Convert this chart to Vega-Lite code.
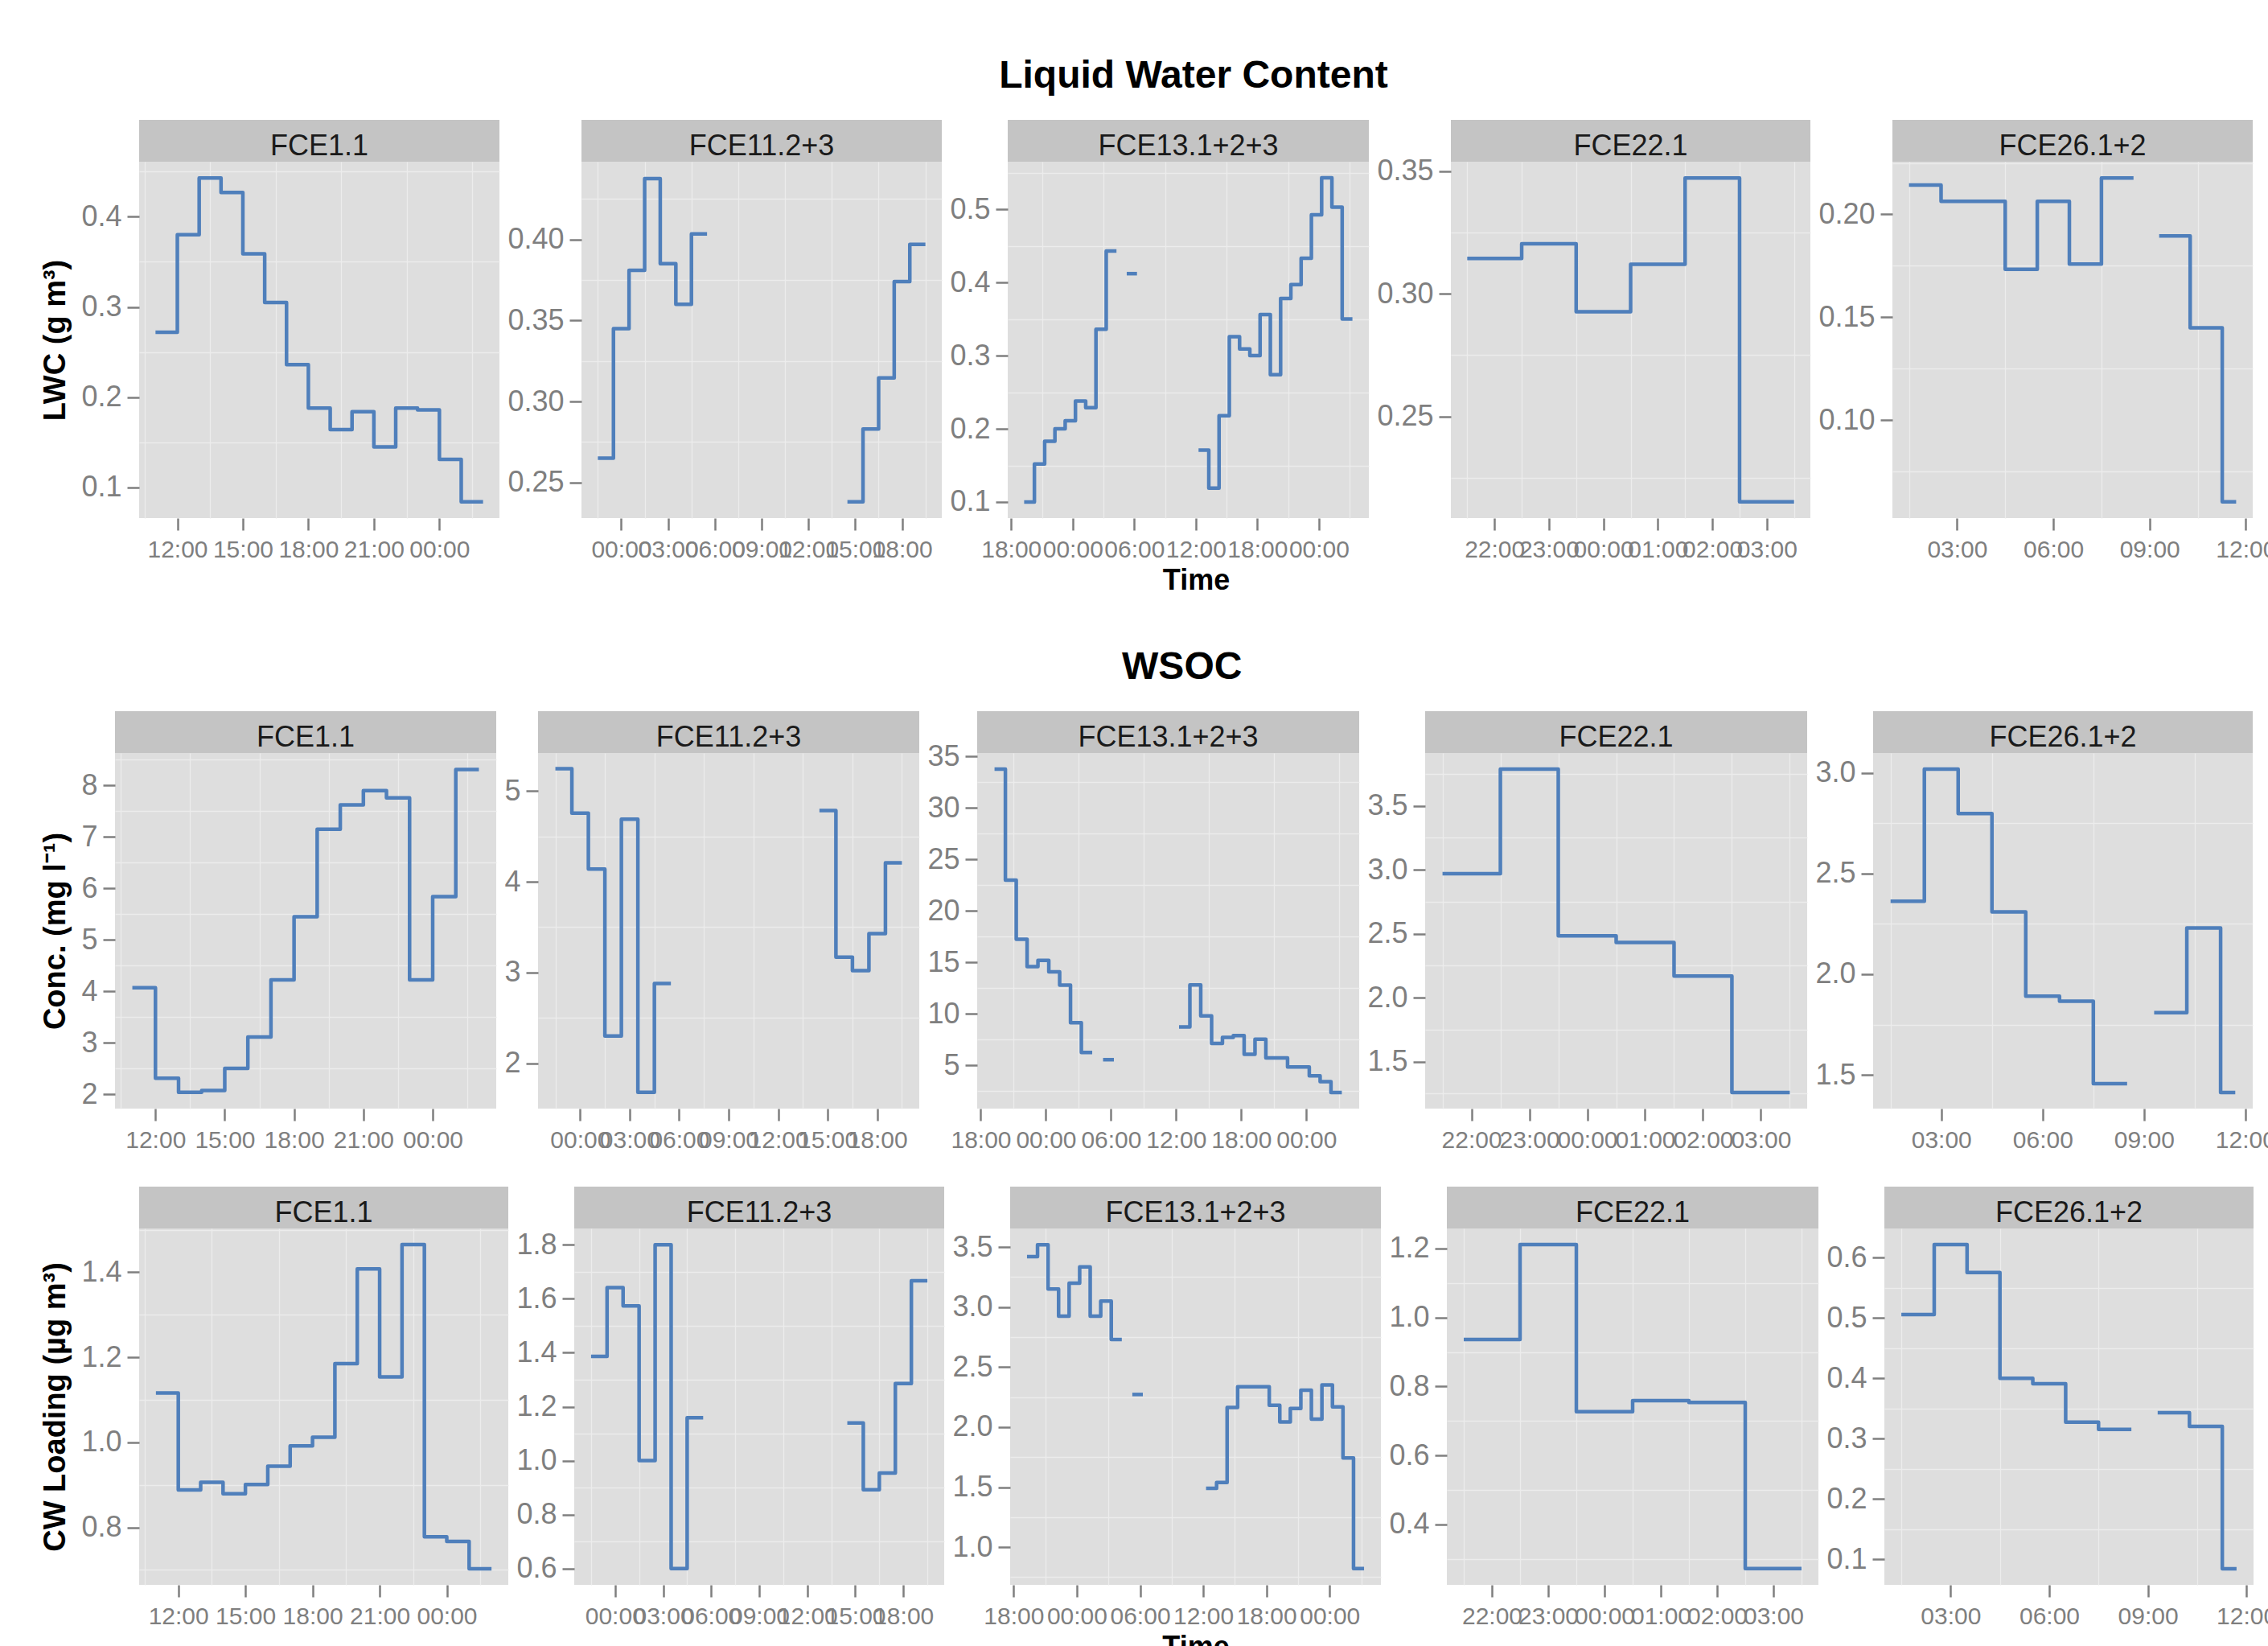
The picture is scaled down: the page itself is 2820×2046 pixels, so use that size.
{
  "$schema": "https://vega.github.io/schema/vega-lite/v6.json",
  "background": "#ffffff",
  "padding": {"left": 40, "top": 71, "right": 0, "bottom": 0},
  "data": {
    "format": {"parse": {"time": "date:'%Y-%m-%d %H:%M'"}},
    "values": [
      {"var": "LWC", "event": "FCE1.1", "seg": 1, "time": "2010-09-14 11:00", "value": 0.272},
      {"var": "LWC", "event": "FCE1.1", "seg": 1, "time": "2010-09-14 12:00", "value": 0.380},
      {"var": "LWC", "event": "FCE1.1", "seg": 1, "time": "2010-09-14 13:00", "value": 0.443},
      {"var": "LWC", "event": "FCE1.1", "seg": 1, "time": "2010-09-14 14:00", "value": 0.427},
      {"var": "LWC", "event": "FCE1.1", "seg": 1, "time": "2010-09-14 15:00", "value": 0.359},
      {"var": "LWC", "event": "FCE1.1", "seg": 1, "time": "2010-09-14 16:00", "value": 0.305},
      {"var": "LWC", "event": "FCE1.1", "seg": 1, "time": "2010-09-14 17:00", "value": 0.236},
      {"var": "LWC", "event": "FCE1.1", "seg": 1, "time": "2010-09-14 18:00", "value": 0.188},
      {"var": "LWC", "event": "FCE1.1", "seg": 1, "time": "2010-09-14 19:00", "value": 0.164},
      {"var": "LWC", "event": "FCE1.1", "seg": 1, "time": "2010-09-14 20:00", "value": 0.184},
      {"var": "LWC", "event": "FCE1.1", "seg": 1, "time": "2010-09-14 21:00", "value": 0.145},
      {"var": "LWC", "event": "FCE1.1", "seg": 1, "time": "2010-09-14 22:00", "value": 0.188},
      {"var": "LWC", "event": "FCE1.1", "seg": 1, "time": "2010-09-14 23:00", "value": 0.186},
      {"var": "LWC", "event": "FCE1.1", "seg": 1, "time": "2010-09-15 00:00", "value": 0.131},
      {"var": "LWC", "event": "FCE1.1", "seg": 1, "time": "2010-09-15 01:00", "value": 0.084},
      {"var": "LWC", "event": "FCE1.1", "seg": 1, "time": "2010-09-15 02:00", "value": 0.084},

      {"var": "LWC", "event": "FCE11.2+3", "seg": 1, "time": "2010-10-01 22:30", "value": 0.265},
      {"var": "LWC", "event": "FCE11.2+3", "seg": 1, "time": "2010-10-01 23:30", "value": 0.345},
      {"var": "LWC", "event": "FCE11.2+3", "seg": 1, "time": "2010-10-02 00:30", "value": 0.381},
      {"var": "LWC", "event": "FCE11.2+3", "seg": 1, "time": "2010-10-02 01:30", "value": 0.4376},
      {"var": "LWC", "event": "FCE11.2+3", "seg": 1, "time": "2010-10-02 02:30", "value": 0.385},
      {"var": "LWC", "event": "FCE11.2+3", "seg": 1, "time": "2010-10-02 03:30", "value": 0.360},
      {"var": "LWC", "event": "FCE11.2+3", "seg": 1, "time": "2010-10-02 04:30", "value": 0.4034},
      {"var": "LWC", "event": "FCE11.2+3", "seg": 1, "time": "2010-10-02 05:30", "value": 0.4034},
      {"var": "LWC", "event": "FCE11.2+3", "seg": 2, "time": "2010-10-02 14:30", "value": 0.238},
      {"var": "LWC", "event": "FCE11.2+3", "seg": 2, "time": "2010-10-02 15:30", "value": 0.283},
      {"var": "LWC", "event": "FCE11.2+3", "seg": 2, "time": "2010-10-02 16:30", "value": 0.3145},
      {"var": "LWC", "event": "FCE11.2+3", "seg": 2, "time": "2010-10-02 17:30", "value": 0.374},
      {"var": "LWC", "event": "FCE11.2+3", "seg": 2, "time": "2010-10-02 18:30", "value": 0.397},
      {"var": "LWC", "event": "FCE11.2+3", "seg": 2, "time": "2010-10-02 19:30", "value": 0.397},

      {"var": "LWC", "event": "FCE13.1+2+3", "seg": 1, "time": "2010-10-06 19:16", "value": 0.100},
      {"var": "LWC", "event": "FCE13.1+2+3", "seg": 1, "time": "2010-10-06 20:16", "value": 0.152},
      {"var": "LWC", "event": "FCE13.1+2+3", "seg": 1, "time": "2010-10-06 21:16", "value": 0.183},
      {"var": "LWC", "event": "FCE13.1+2+3", "seg": 1, "time": "2010-10-06 22:16", "value": 0.200},
      {"var": "LWC", "event": "FCE13.1+2+3", "seg": 1, "time": "2010-10-06 23:16", "value": 0.211},
      {"var": "LWC", "event": "FCE13.1+2+3", "seg": 1, "time": "2010-10-07 00:16", "value": 0.238},
      {"var": "LWC", "event": "FCE13.1+2+3", "seg": 1, "time": "2010-10-07 01:16", "value": 0.229},
      {"var": "LWC", "event": "FCE13.1+2+3", "seg": 1, "time": "2010-10-07 02:16", "value": 0.336},
      {"var": "LWC", "event": "FCE13.1+2+3", "seg": 1, "time": "2010-10-07 03:16", "value": 0.443},
      {"var": "LWC", "event": "FCE13.1+2+3", "seg": 1, "time": "2010-10-07 04:16", "value": 0.443},
      {"var": "LWC", "event": "FCE13.1+2+3", "seg": 2, "time": "2010-10-07 05:16", "value": 0.412},
      {"var": "LWC", "event": "FCE13.1+2+3", "seg": 2, "time": "2010-10-07 06:16", "value": 0.412},
      {"var": "LWC", "event": "FCE13.1+2+3", "seg": 3, "time": "2010-10-07 12:16", "value": 0.171},
      {"var": "LWC", "event": "FCE13.1+2+3", "seg": 3, "time": "2010-10-07 13:16", "value": 0.119},
      {"var": "LWC", "event": "FCE13.1+2+3", "seg": 3, "time": "2010-10-07 14:16", "value": 0.218},
      {"var": "LWC", "event": "FCE13.1+2+3", "seg": 3, "time": "2010-10-07 15:16", "value": 0.326},
      {"var": "LWC", "event": "FCE13.1+2+3", "seg": 3, "time": "2010-10-07 16:16", "value": 0.309},
      {"var": "LWC", "event": "FCE13.1+2+3", "seg": 3, "time": "2010-10-07 17:16", "value": 0.300},
      {"var": "LWC", "event": "FCE13.1+2+3", "seg": 3, "time": "2010-10-07 18:16", "value": 0.356},
      {"var": "LWC", "event": "FCE13.1+2+3", "seg": 3, "time": "2010-10-07 19:16", "value": 0.274},
      {"var": "LWC", "event": "FCE13.1+2+3", "seg": 3, "time": "2010-10-07 20:16", "value": 0.378},
      {"var": "LWC", "event": "FCE13.1+2+3", "seg": 3, "time": "2010-10-07 21:16", "value": 0.397},
      {"var": "LWC", "event": "FCE13.1+2+3", "seg": 3, "time": "2010-10-07 22:16", "value": 0.433},
      {"var": "LWC", "event": "FCE13.1+2+3", "seg": 3, "time": "2010-10-07 23:16", "value": 0.4925},
      {"var": "LWC", "event": "FCE13.1+2+3", "seg": 3, "time": "2010-10-08 00:16", "value": 0.543},
      {"var": "LWC", "event": "FCE13.1+2+3", "seg": 3, "time": "2010-10-08 01:16", "value": 0.503},
      {"var": "LWC", "event": "FCE13.1+2+3", "seg": 3, "time": "2010-10-08 02:16", "value": 0.350},
      {"var": "LWC", "event": "FCE13.1+2+3", "seg": 3, "time": "2010-10-08 03:16", "value": 0.350},

      {"var": "LWC", "event": "FCE22.1", "seg": 1, "time": "2010-10-22 21:30", "value": 0.3144},
      {"var": "LWC", "event": "FCE22.1", "seg": 1, "time": "2010-10-22 22:30", "value": 0.3204},
      {"var": "LWC", "event": "FCE22.1", "seg": 1, "time": "2010-10-22 23:30", "value": 0.2927},
      {"var": "LWC", "event": "FCE22.1", "seg": 1, "time": "2010-10-23 00:30", "value": 0.3120},
      {"var": "LWC", "event": "FCE22.1", "seg": 1, "time": "2010-10-23 01:30", "value": 0.3472},
      {"var": "LWC", "event": "FCE22.1", "seg": 1, "time": "2010-10-23 02:30", "value": 0.2152},
      {"var": "LWC", "event": "FCE22.1", "seg": 1, "time": "2010-10-23 03:30", "value": 0.2152},

      {"var": "LWC", "event": "FCE26.1+2", "seg": 1, "time": "2010-10-24 01:30", "value": 0.2143},
      {"var": "LWC", "event": "FCE26.1+2", "seg": 1, "time": "2010-10-24 02:30", "value": 0.2063},
      {"var": "LWC", "event": "FCE26.1+2", "seg": 1, "time": "2010-10-24 03:30", "value": 0.2063},
      {"var": "LWC", "event": "FCE26.1+2", "seg": 1, "time": "2010-10-24 04:30", "value": 0.1733},
      {"var": "LWC", "event": "FCE26.1+2", "seg": 1, "time": "2010-10-24 05:30", "value": 0.2063},
      {"var": "LWC", "event": "FCE26.1+2", "seg": 1, "time": "2010-10-24 06:30", "value": 0.1758},
      {"var": "LWC", "event": "FCE26.1+2", "seg": 1, "time": "2010-10-24 07:30", "value": 0.2177},
      {"var": "LWC", "event": "FCE26.1+2", "seg": 1, "time": "2010-10-24 08:30", "value": 0.2177},
      {"var": "LWC", "event": "FCE26.1+2", "seg": 2, "time": "2010-10-24 09:18", "value": 0.1895},
      {"var": "LWC", "event": "FCE26.1+2", "seg": 2, "time": "2010-10-24 10:16", "value": 0.1448},
      {"var": "LWC", "event": "FCE26.1+2", "seg": 2, "time": "2010-10-24 11:16", "value": 0.0602},
      {"var": "LWC", "event": "FCE26.1+2", "seg": 2, "time": "2010-10-24 11:42", "value": 0.0602},

      {"var": "WSOC", "event": "FCE1.1", "seg": 1, "time": "2010-09-14 11:00", "value": 4.07},
      {"var": "WSOC", "event": "FCE1.1", "seg": 1, "time": "2010-09-14 12:00", "value": 2.31},
      {"var": "WSOC", "event": "FCE1.1", "seg": 1, "time": "2010-09-14 13:00", "value": 2.035},
      {"var": "WSOC", "event": "FCE1.1", "seg": 1, "time": "2010-09-14 14:00", "value": 2.07},
      {"var": "WSOC", "event": "FCE1.1", "seg": 1, "time": "2010-09-14 15:00", "value": 2.50},
      {"var": "WSOC", "event": "FCE1.1", "seg": 1, "time": "2010-09-14 16:00", "value": 3.11},
      {"var": "WSOC", "event": "FCE1.1", "seg": 1, "time": "2010-09-14 17:00", "value": 4.22},
      {"var": "WSOC", "event": "FCE1.1", "seg": 1, "time": "2010-09-14 18:00", "value": 5.45},
      {"var": "WSOC", "event": "FCE1.1", "seg": 1, "time": "2010-09-14 19:00", "value": 7.15},
      {"var": "WSOC", "event": "FCE1.1", "seg": 1, "time": "2010-09-14 20:00", "value": 7.62},
      {"var": "WSOC", "event": "FCE1.1", "seg": 1, "time": "2010-09-14 21:00", "value": 7.90},
      {"var": "WSOC", "event": "FCE1.1", "seg": 1, "time": "2010-09-14 22:00", "value": 7.76},
      {"var": "WSOC", "event": "FCE1.1", "seg": 1, "time": "2010-09-14 23:00", "value": 4.22},
      {"var": "WSOC", "event": "FCE1.1", "seg": 1, "time": "2010-09-15 00:00", "value": 5.84},
      {"var": "WSOC", "event": "FCE1.1", "seg": 1, "time": "2010-09-15 01:00", "value": 8.31},
      {"var": "WSOC", "event": "FCE1.1", "seg": 1, "time": "2010-09-15 02:00", "value": 8.31},

      {"var": "WSOC", "event": "FCE11.2+3", "seg": 1, "time": "2010-10-01 22:30", "value": 5.246},
      {"var": "WSOC", "event": "FCE11.2+3", "seg": 1, "time": "2010-10-01 23:30", "value": 4.758},
      {"var": "WSOC", "event": "FCE11.2+3", "seg": 1, "time": "2010-10-02 00:30", "value": 4.14},
      {"var": "WSOC", "event": "FCE11.2+3", "seg": 1, "time": "2010-10-02 01:30", "value": 2.30},
      {"var": "WSOC", "event": "FCE11.2+3", "seg": 1, "time": "2010-10-02 02:30", "value": 4.69},
      {"var": "WSOC", "event": "FCE11.2+3", "seg": 1, "time": "2010-10-02 03:30", "value": 1.68},
      {"var": "WSOC", "event": "FCE11.2+3", "seg": 1, "time": "2010-10-02 04:30", "value": 2.88},
      {"var": "WSOC", "event": "FCE11.2+3", "seg": 1, "time": "2010-10-02 05:30", "value": 2.88},
      {"var": "WSOC", "event": "FCE11.2+3", "seg": 2, "time": "2010-10-02 14:30", "value": 4.786},
      {"var": "WSOC", "event": "FCE11.2+3", "seg": 2, "time": "2010-10-02 15:30", "value": 3.17},
      {"var": "WSOC", "event": "FCE11.2+3", "seg": 2, "time": "2010-10-02 16:30", "value": 3.02},
      {"var": "WSOC", "event": "FCE11.2+3", "seg": 2, "time": "2010-10-02 17:30", "value": 3.43},
      {"var": "WSOC", "event": "FCE11.2+3", "seg": 2, "time": "2010-10-02 18:30", "value": 4.21},
      {"var": "WSOC", "event": "FCE11.2+3", "seg": 2, "time": "2010-10-02 19:30", "value": 4.21},

      {"var": "WSOC", "event": "FCE13.1+2+3", "seg": 1, "time": "2010-10-06 19:16", "value": 33.78},
      {"var": "WSOC", "event": "FCE13.1+2+3", "seg": 1, "time": "2010-10-06 20:16", "value": 23.0},
      {"var": "WSOC", "event": "FCE13.1+2+3", "seg": 1, "time": "2010-10-06 21:16", "value": 17.26},
      {"var": "WSOC", "event": "FCE13.1+2+3", "seg": 1, "time": "2010-10-06 22:16", "value": 14.6},
      {"var": "WSOC", "event": "FCE13.1+2+3", "seg": 1, "time": "2010-10-06 23:16", "value": 15.2},
      {"var": "WSOC", "event": "FCE13.1+2+3", "seg": 1, "time": "2010-10-07 00:16", "value": 14.1},
      {"var": "WSOC", "event": "FCE13.1+2+3", "seg": 1, "time": "2010-10-07 01:16", "value": 12.8},
      {"var": "WSOC", "event": "FCE13.1+2+3", "seg": 1, "time": "2010-10-07 02:16", "value": 9.15},
      {"var": "WSOC", "event": "FCE13.1+2+3", "seg": 1, "time": "2010-10-07 03:16", "value": 6.26},
      {"var": "WSOC", "event": "FCE13.1+2+3", "seg": 1, "time": "2010-10-07 04:16", "value": 6.26},
      {"var": "WSOC", "event": "FCE13.1+2+3", "seg": 2, "time": "2010-10-07 05:16", "value": 5.56},
      {"var": "WSOC", "event": "FCE13.1+2+3", "seg": 2, "time": "2010-10-07 06:16", "value": 5.56},
      {"var": "WSOC", "event": "FCE13.1+2+3", "seg": 3, "time": "2010-10-07 12:16", "value": 8.74},
      {"var": "WSOC", "event": "FCE13.1+2+3", "seg": 3, "time": "2010-10-07 13:16", "value": 12.82},
      {"var": "WSOC", "event": "FCE13.1+2+3", "seg": 3, "time": "2010-10-07 14:16", "value": 9.82},
      {"var": "WSOC", "event": "FCE13.1+2+3", "seg": 3, "time": "2010-10-07 15:16", "value": 7.13},
      {"var": "WSOC", "event": "FCE13.1+2+3", "seg": 3, "time": "2010-10-07 16:16", "value": 7.72},
      {"var": "WSOC", "event": "FCE13.1+2+3", "seg": 3, "time": "2010-10-07 17:16", "value": 7.90},
      {"var": "WSOC", "event": "FCE13.1+2+3", "seg": 3, "time": "2010-10-07 18:16", "value": 6.08},
      {"var": "WSOC", "event": "FCE13.1+2+3", "seg": 3, "time": "2010-10-07 19:16", "value": 7.55},
      {"var": "WSOC", "event": "FCE13.1+2+3", "seg": 3, "time": "2010-10-07 20:16", "value": 5.73},
      {"var": "WSOC", "event": "FCE13.1+2+3", "seg": 3, "time": "2010-10-07 21:16", "value": 5.73},
      {"var": "WSOC", "event": "FCE13.1+2+3", "seg": 3, "time": "2010-10-07 22:16", "value": 4.86},
      {"var": "WSOC", "event": "FCE13.1+2+3", "seg": 3, "time": "2010-10-07 23:16", "value": 4.86},
      {"var": "WSOC", "event": "FCE13.1+2+3", "seg": 3, "time": "2010-10-08 00:16", "value": 3.99},
      {"var": "WSOC", "event": "FCE13.1+2+3", "seg": 3, "time": "2010-10-08 01:16", "value": 3.43},
      {"var": "WSOC", "event": "FCE13.1+2+3", "seg": 3, "time": "2010-10-08 02:16", "value": 2.38},
      {"var": "WSOC", "event": "FCE13.1+2+3", "seg": 3, "time": "2010-10-08 03:16", "value": 2.38},

      {"var": "WSOC", "event": "FCE22.1", "seg": 1, "time": "2010-10-22 21:30", "value": 2.969},
      {"var": "WSOC", "event": "FCE22.1", "seg": 1, "time": "2010-10-22 22:30", "value": 3.787},
      {"var": "WSOC", "event": "FCE22.1", "seg": 1, "time": "2010-10-22 23:30", "value": 2.483},
      {"var": "WSOC", "event": "FCE22.1", "seg": 1, "time": "2010-10-23 00:30", "value": 2.432},
      {"var": "WSOC", "event": "FCE22.1", "seg": 1, "time": "2010-10-23 01:30", "value": 2.169},
      {"var": "WSOC", "event": "FCE22.1", "seg": 1, "time": "2010-10-23 02:30", "value": 1.258},
      {"var": "WSOC", "event": "FCE22.1", "seg": 1, "time": "2010-10-23 03:30", "value": 1.258},

      {"var": "WSOC", "event": "FCE26.1+2", "seg": 1, "time": "2010-10-24 01:30", "value": 2.3625},
      {"var": "WSOC", "event": "FCE26.1+2", "seg": 1, "time": "2010-10-24 02:30", "value": 3.018},
      {"var": "WSOC", "event": "FCE26.1+2", "seg": 1, "time": "2010-10-24 03:30", "value": 2.798},
      {"var": "WSOC", "event": "FCE26.1+2", "seg": 1, "time": "2010-10-24 04:30", "value": 2.309},
      {"var": "WSOC", "event": "FCE26.1+2", "seg": 1, "time": "2010-10-24 05:30", "value": 1.891},
      {"var": "WSOC", "event": "FCE26.1+2", "seg": 1, "time": "2010-10-24 06:30", "value": 1.866},
      {"var": "WSOC", "event": "FCE26.1+2", "seg": 1, "time": "2010-10-24 07:30", "value": 1.457},
      {"var": "WSOC", "event": "FCE26.1+2", "seg": 1, "time": "2010-10-24 08:30", "value": 1.457},
      {"var": "WSOC", "event": "FCE26.1+2", "seg": 2, "time": "2010-10-24 09:18", "value": 1.809},
      {"var": "WSOC", "event": "FCE26.1+2", "seg": 2, "time": "2010-10-24 10:16", "value": 2.229},
      {"var": "WSOC", "event": "FCE26.1+2", "seg": 2, "time": "2010-10-24 11:16", "value": 1.413},
      {"var": "WSOC", "event": "FCE26.1+2", "seg": 2, "time": "2010-10-24 11:42", "value": 1.413},

      {"var": "CWL", "event": "FCE1.1", "seg": 1, "time": "2010-09-14 11:00", "value": 1.116},
      {"var": "CWL", "event": "FCE1.1", "seg": 1, "time": "2010-09-14 12:00", "value": 0.888},
      {"var": "CWL", "event": "FCE1.1", "seg": 1, "time": "2010-09-14 13:00", "value": 0.906},
      {"var": "CWL", "event": "FCE1.1", "seg": 1, "time": "2010-09-14 14:00", "value": 0.879},
      {"var": "CWL", "event": "FCE1.1", "seg": 1, "time": "2010-09-14 15:00", "value": 0.901},
      {"var": "CWL", "event": "FCE1.1", "seg": 1, "time": "2010-09-14 16:00", "value": 0.944},
      {"var": "CWL", "event": "FCE1.1", "seg": 1, "time": "2010-09-14 17:00", "value": 0.992},
      {"var": "CWL", "event": "FCE1.1", "seg": 1, "time": "2010-09-14 18:00", "value": 1.012},
      {"var": "CWL", "event": "FCE1.1", "seg": 1, "time": "2010-09-14 19:00", "value": 1.185},
      {"var": "CWL", "event": "FCE1.1", "seg": 1, "time": "2010-09-14 20:00", "value": 1.408},
      {"var": "CWL", "event": "FCE1.1", "seg": 1, "time": "2010-09-14 21:00", "value": 1.154},
      {"var": "CWL", "event": "FCE1.1", "seg": 1, "time": "2010-09-14 22:00", "value": 1.465},
      {"var": "CWL", "event": "FCE1.1", "seg": 1, "time": "2010-09-14 23:00", "value": 0.778},
      {"var": "CWL", "event": "FCE1.1", "seg": 1, "time": "2010-09-15 00:00", "value": 0.767},
      {"var": "CWL", "event": "FCE1.1", "seg": 1, "time": "2010-09-15 01:00", "value": 0.703},
      {"var": "CWL", "event": "FCE1.1", "seg": 1, "time": "2010-09-15 02:00", "value": 0.703},

      {"var": "CWL", "event": "FCE11.2+3", "seg": 1, "time": "2010-10-01 22:30", "value": 1.386},
      {"var": "CWL", "event": "FCE11.2+3", "seg": 1, "time": "2010-10-01 23:30", "value": 1.641},
      {"var": "CWL", "event": "FCE11.2+3", "seg": 1, "time": "2010-10-02 00:30", "value": 1.573},
      {"var": "CWL", "event": "FCE11.2+3", "seg": 1, "time": "2010-10-02 01:30", "value": 1.000},
      {"var": "CWL", "event": "FCE11.2+3", "seg": 1, "time": "2010-10-02 02:30", "value": 1.800},
      {"var": "CWL", "event": "FCE11.2+3", "seg": 1, "time": "2010-10-02 03:30", "value": 0.600},
      {"var": "CWL", "event": "FCE11.2+3", "seg": 1, "time": "2010-10-02 04:30", "value": 1.159},
      {"var": "CWL", "event": "FCE11.2+3", "seg": 1, "time": "2010-10-02 05:30", "value": 1.159},
      {"var": "CWL", "event": "FCE11.2+3", "seg": 2, "time": "2010-10-02 14:30", "value": 1.140},
      {"var": "CWL", "event": "FCE11.2+3", "seg": 2, "time": "2010-10-02 15:30", "value": 0.892},
      {"var": "CWL", "event": "FCE11.2+3", "seg": 2, "time": "2010-10-02 16:30", "value": 0.954},
      {"var": "CWL", "event": "FCE11.2+3", "seg": 2, "time": "2010-10-02 17:30", "value": 1.286},
      {"var": "CWL", "event": "FCE11.2+3", "seg": 2, "time": "2010-10-02 18:30", "value": 1.666},
      {"var": "CWL", "event": "FCE11.2+3", "seg": 2, "time": "2010-10-02 19:30", "value": 1.666},

      {"var": "CWL", "event": "FCE13.1+2+3", "seg": 1, "time": "2010-10-06 19:16", "value": 3.42},
      {"var": "CWL", "event": "FCE13.1+2+3", "seg": 1, "time": "2010-10-06 20:16", "value": 3.52},
      {"var": "CWL", "event": "FCE13.1+2+3", "seg": 1, "time": "2010-10-06 21:16", "value": 3.15},
      {"var": "CWL", "event": "FCE13.1+2+3", "seg": 1, "time": "2010-10-06 22:16", "value": 2.925},
      {"var": "CWL", "event": "FCE13.1+2+3", "seg": 1, "time": "2010-10-06 23:16", "value": 3.20},
      {"var": "CWL", "event": "FCE13.1+2+3", "seg": 1, "time": "2010-10-07 00:16", "value": 3.335},
      {"var": "CWL", "event": "FCE13.1+2+3", "seg": 1, "time": "2010-10-07 01:16", "value": 2.925},
      {"var": "CWL", "event": "FCE13.1+2+3", "seg": 1, "time": "2010-10-07 02:16", "value": 3.05},
      {"var": "CWL", "event": "FCE13.1+2+3", "seg": 1, "time": "2010-10-07 03:16", "value": 2.73},
      {"var": "CWL", "event": "FCE13.1+2+3", "seg": 1, "time": "2010-10-07 04:16", "value": 2.73},
      {"var": "CWL", "event": "FCE13.1+2+3", "seg": 2, "time": "2010-10-07 05:16", "value": 2.272},
      {"var": "CWL", "event": "FCE13.1+2+3", "seg": 2, "time": "2010-10-07 06:16", "value": 2.272},
      {"var": "CWL", "event": "FCE13.1+2+3", "seg": 3, "time": "2010-10-07 12:16", "value": 1.491},
      {"var": "CWL", "event": "FCE13.1+2+3", "seg": 3, "time": "2010-10-07 13:16", "value": 1.538},
      {"var": "CWL", "event": "FCE13.1+2+3", "seg": 3, "time": "2010-10-07 14:16", "value": 2.163},
      {"var": "CWL", "event": "FCE13.1+2+3", "seg": 3, "time": "2010-10-07 15:16", "value": 2.336},
      {"var": "CWL", "event": "FCE13.1+2+3", "seg": 3, "time": "2010-10-07 16:16", "value": 2.336},
      {"var": "CWL", "event": "FCE13.1+2+3", "seg": 3, "time": "2010-10-07 17:16", "value": 2.336},
      {"var": "CWL", "event": "FCE13.1+2+3", "seg": 3, "time": "2010-10-07 18:16", "value": 2.183},
      {"var": "CWL", "event": "FCE13.1+2+3", "seg": 3, "time": "2010-10-07 19:16", "value": 2.044},
      {"var": "CWL", "event": "FCE13.1+2+3", "seg": 3, "time": "2010-10-07 20:16", "value": 2.155},
      {"var": "CWL", "event": "FCE13.1+2+3", "seg": 3, "time": "2010-10-07 21:16", "value": 2.308},
      {"var": "CWL", "event": "FCE13.1+2+3", "seg": 3, "time": "2010-10-07 22:16", "value": 2.066},
      {"var": "CWL", "event": "FCE13.1+2+3", "seg": 3, "time": "2010-10-07 23:16", "value": 2.352},
      {"var": "CWL", "event": "FCE13.1+2+3", "seg": 3, "time": "2010-10-08 00:16", "value": 2.169},
      {"var": "CWL", "event": "FCE13.1+2+3", "seg": 3, "time": "2010-10-08 01:16", "value": 1.743},
      {"var": "CWL", "event": "FCE13.1+2+3", "seg": 3, "time": "2010-10-08 02:16", "value": 0.821},
      {"var": "CWL", "event": "FCE13.1+2+3", "seg": 3, "time": "2010-10-08 03:16", "value": 0.821},

      {"var": "CWL", "event": "FCE22.1", "seg": 1, "time": "2010-10-22 21:30", "value": 0.9365},
      {"var": "CWL", "event": "FCE22.1", "seg": 1, "time": "2010-10-22 22:30", "value": 1.2115},
      {"var": "CWL", "event": "FCE22.1", "seg": 1, "time": "2010-10-22 23:30", "value": 0.727},
      {"var": "CWL", "event": "FCE22.1", "seg": 1, "time": "2010-10-23 00:30", "value": 0.759},
      {"var": "CWL", "event": "FCE22.1", "seg": 1, "time": "2010-10-23 01:30", "value": 0.754},
      {"var": "CWL", "event": "FCE22.1", "seg": 1, "time": "2010-10-23 02:30", "value": 0.272},
      {"var": "CWL", "event": "FCE22.1", "seg": 1, "time": "2010-10-23 03:30", "value": 0.272},

      {"var": "CWL", "event": "FCE26.1+2", "seg": 1, "time": "2010-10-24 01:30", "value": 0.5055},
      {"var": "CWL", "event": "FCE26.1+2", "seg": 1, "time": "2010-10-24 02:30", "value": 0.6215},
      {"var": "CWL", "event": "FCE26.1+2", "seg": 1, "time": "2010-10-24 03:30", "value": 0.575},
      {"var": "CWL", "event": "FCE26.1+2", "seg": 1, "time": "2010-10-24 04:30", "value": 0.400},
      {"var": "CWL", "event": "FCE26.1+2", "seg": 1, "time": "2010-10-24 05:30", "value": 0.391},
      {"var": "CWL", "event": "FCE26.1+2", "seg": 1, "time": "2010-10-24 06:30", "value": 0.3275},
      {"var": "CWL", "event": "FCE26.1+2", "seg": 1, "time": "2010-10-24 07:30", "value": 0.3154},
      {"var": "CWL", "event": "FCE26.1+2", "seg": 1, "time": "2010-10-24 08:30", "value": 0.3154},
      {"var": "CWL", "event": "FCE26.1+2", "seg": 2, "time": "2010-10-24 09:18", "value": 0.343},
      {"var": "CWL", "event": "FCE26.1+2", "seg": 2, "time": "2010-10-24 10:16", "value": 0.3204},
      {"var": "CWL", "event": "FCE26.1+2", "seg": 2, "time": "2010-10-24 11:16", "value": 0.0846},
      {"var": "CWL", "event": "FCE26.1+2", "seg": 2, "time": "2010-10-24 11:42", "value": 0.0846}
    ]
  },
  "concat": [
    {
      "concat": [
        {
          "title": {"text": "Liquid Water Content", "offset": 30, "dx": 49},
          "spacing": 9,
          "hconcat": [
            {"width": 1, "height": 1, "view": {"fill": null, "stroke": null}, "data": {"values": [{"label": ""}]}, "mark": {"type": "text", "fontSize": 1, "dy": 0, "baseline": "top"}, "encoding": {"text": {"field": "label", "type": "nominal"}}},
            {"vconcat": [
              {"width": 448, "height": 52, "view": {"fill": "#c4c4c4", "stroke": null}, "data": {"values": [{"label": "FCE1.1"}]}, "mark": {"type": "text"}, "encoding": {"text": {"field": "label", "type": "nominal"}}},
              {"width": 448, "height": 443,
               "transform": [{"filter": "datum.var === 'LWC' && datum.event === 'FCE1.1'"}],
               "layer": [
                 {"mark": {"type": "line", "opacity": 0},
                  "encoding": {
                    "x": {"field": "time", "type": "temporal", "scale": {"nice": false, "domain": [{"year": 2010, "month": 9, "date": 14, "hours": 10, "minutes": 15}, {"year": 2010, "month": 9, "date": 15, "hours": 2, "minutes": 45}]},
                          "axis": {"orient": "bottom", "title": null, "labels": false, "ticks": false, "gridColor": "#ececec", "gridWidth": 1.4, "values": [{"year": 2010, "month": 9, "date": 14, "hours": 10, "minutes": 30}, {"year": 2010, "month": 9, "date": 14, "hours": 13, "minutes": 30}, {"year": 2010, "month": 9, "date": 14, "hours": 16, "minutes": 30}, {"year": 2010, "month": 9, "date": 14, "hours": 19, "minutes": 30}, {"year": 2010, "month": 9, "date": 14, "hours": 22, "minutes": 30}, {"year": 2010, "month": 9, "date": 15, "hours": 1, "minutes": 30}]}},
                    "y": {"field": "value", "type": "quantitative", "scale": {"domain": [0.066, 0.461], "nice": false, "zero": false},
                          "axis": {"orient": "left", "title": null, "labels": false, "ticks": false, "gridColor": "#ececec", "gridWidth": 1.4, "values": [0.15, 0.25, 0.35, 0.45]}}
                  }},
                 {"mark": {"type": "line"},
                  "encoding": {
                    "x": {"field": "time", "type": "temporal", "scale": {"nice": false, "domain": [{"year": 2010, "month": 9, "date": 14, "hours": 10, "minutes": 15}, {"year": 2010, "month": 9, "date": 15, "hours": 2, "minutes": 45}]},
                          "axis": {"orient": "bottom", "title": null, "format": "%H:%M", "values": [{"year": 2010, "month": 9, "date": 14, "hours": 12}, {"year": 2010, "month": 9, "date": 14, "hours": 15}, {"year": 2010, "month": 9, "date": 14, "hours": 18}, {"year": 2010, "month": 9, "date": 14, "hours": 21}, {"year": 2010, "month": 9, "date": 15, "hours": 0}]}},
                    "y": {"field": "value", "type": "quantitative", "scale": {"domain": [0.066, 0.461], "nice": false, "zero": false},
                          "axis": {"orient": "left", "title": "LWC (g m³)", "titlePadding": 12, "format": ".1f", "values": [0.1, 0.2, 0.3, 0.4]}},
                    "detail": {"field": "seg", "type": "nominal"}
                  }}
               ],
               "resolve": {"axis": {"x": "independent", "y": "independent"}}}
            ], "spacing": 0, "bounds": "flush"},
            {"vconcat": [
              {"width": 448, "height": 52, "view": {"fill": "#c4c4c4", "stroke": null}, "data": {"values": [{"label": "FCE11.2+3"}]}, "mark": {"type": "text"}, "encoding": {"text": {"field": "label", "type": "nominal"}}},
              {"width": 448, "height": 443,
               "transform": [{"filter": "datum.var === 'LWC' && datum.event === 'FCE11.2+3'"}],
               "layer": [
                 {"mark": {"type": "line", "opacity": 0},
                  "encoding": {
                    "x": {"field": "time", "type": "temporal", "scale": {"nice": false, "domain": [{"year": 2010, "month": 10, "date": 1, "hours": 21, "minutes": 27}, {"year": 2010, "month": 10, "date": 2, "hours": 20, "minutes": 33}]},
                          "axis": {"orient": "bottom", "title": null, "labels": false, "ticks": false, "gridColor": "#ececec", "gridWidth": 1.4, "values": [{"year": 2010, "month": 10, "date": 1, "hours": 22, "minutes": 30}, {"year": 2010, "month": 10, "date": 2, "hours": 1, "minutes": 30}, {"year": 2010, "month": 10, "date": 2, "hours": 4, "minutes": 30}, {"year": 2010, "month": 10, "date": 2, "hours": 7, "minutes": 30}, {"year": 2010, "month": 10, "date": 2, "hours": 10, "minutes": 30}, {"year": 2010, "month": 10, "date": 2, "hours": 13, "minutes": 30}, {"year": 2010, "month": 10, "date": 2, "hours": 16, "minutes": 30}, {"year": 2010, "month": 10, "date": 2, "hours": 19, "minutes": 30}]}},
                    "y": {"field": "value", "type": "quantitative", "scale": {"domain": [0.228, 0.448], "nice": false, "zero": false},
                          "axis": {"orient": "left", "title": null, "labels": false, "ticks": false, "gridColor": "#ececec", "gridWidth": 1.4, "values": [0.275, 0.325, 0.375, 0.425]}}
                  }},
                 {"mark": {"type": "line"},
                  "encoding": {
                    "x": {"field": "time", "type": "temporal", "scale": {"nice": false, "domain": [{"year": 2010, "month": 10, "date": 1, "hours": 21, "minutes": 27}, {"year": 2010, "month": 10, "date": 2, "hours": 20, "minutes": 33}]},
                          "axis": {"orient": "bottom", "title": null, "format": "%H:%M", "values": [{"year": 2010, "month": 10, "date": 2, "hours": 0}, {"year": 2010, "month": 10, "date": 2, "hours": 3}, {"year": 2010, "month": 10, "date": 2, "hours": 6}, {"year": 2010, "month": 10, "date": 2, "hours": 9}, {"year": 2010, "month": 10, "date": 2, "hours": 12}, {"year": 2010, "month": 10, "date": 2, "hours": 15}, {"year": 2010, "month": 10, "date": 2, "hours": 18}]}},
                    "y": {"field": "value", "type": "quantitative", "scale": {"domain": [0.228, 0.448], "nice": false, "zero": false},
                          "axis": {"orient": "left", "title": null, "format": ".2f", "values": [0.25, 0.30, 0.35, 0.40]}},
                    "detail": {"field": "seg", "type": "nominal"}
                  }}
               ],
               "resolve": {"axis": {"x": "independent", "y": "independent"}}}
            ], "spacing": 0, "bounds": "flush"},
            {"vconcat": [
              {"width": 449, "height": 52, "view": {"fill": "#c4c4c4", "stroke": null}, "data": {"values": [{"label": "FCE13.1+2+3"}]}, "mark": {"type": "text"}, "encoding": {"text": {"field": "label", "type": "nominal"}}},
              {"width": 449, "height": 443,
               "transform": [{"filter": "datum.var === 'LWC' && datum.event === 'FCE13.1+2+3'"}],
               "layer": [
                 {"mark": {"type": "line", "opacity": 0},
                  "encoding": {
                    "x": {"field": "time", "type": "temporal", "scale": {"nice": false, "domain": [{"year": 2010, "month": 10, "date": 6, "hours": 17, "minutes": 40}, {"year": 2010, "month": 10, "date": 8, "hours": 4, "minutes": 52}]},
                          "axis": {"orient": "bottom", "title": null, "labels": false, "ticks": false, "gridColor": "#ececec", "gridWidth": 1.4, "values": [{"year": 2010, "month": 10, "date": 6, "hours": 21}, {"year": 2010, "month": 10, "date": 7, "hours": 3}, {"year": 2010, "month": 10, "date": 7, "hours": 9}, {"year": 2010, "month": 10, "date": 7, "hours": 15}, {"year": 2010, "month": 10, "date": 7, "hours": 21}, {"year": 2010, "month": 10, "date": 8, "hours": 3}]}},
                    "y": {"field": "value", "type": "quantitative", "scale": {"domain": [0.078, 0.565], "nice": false, "zero": false},
                          "axis": {"orient": "left", "title": null, "labels": false, "ticks": false, "gridColor": "#ececec", "gridWidth": 1.4, "values": [0.15, 0.25, 0.35, 0.45, 0.55]}}
                  }},
                 {"mark": {"type": "line"},
                  "encoding": {
                    "x": {"field": "time", "type": "temporal", "scale": {"nice": false, "domain": [{"year": 2010, "month": 10, "date": 6, "hours": 17, "minutes": 40}, {"year": 2010, "month": 10, "date": 8, "hours": 4, "minutes": 52}]},
                          "axis": {"orient": "bottom", "title": "Time", "titlePadding": 6, "titleX": 234, "format": "%H:%M", "values": [{"year": 2010, "month": 10, "date": 6, "hours": 18}, {"year": 2010, "month": 10, "date": 7, "hours": 0}, {"year": 2010, "month": 10, "date": 7, "hours": 6}, {"year": 2010, "month": 10, "date": 7, "hours": 12}, {"year": 2010, "month": 10, "date": 7, "hours": 18}, {"year": 2010, "month": 10, "date": 8, "hours": 0}]}},
                    "y": {"field": "value", "type": "quantitative", "scale": {"domain": [0.078, 0.565], "nice": false, "zero": false},
                          "axis": {"orient": "left", "title": null, "format": ".1f", "values": [0.1, 0.2, 0.3, 0.4, 0.5]}},
                    "detail": {"field": "seg", "type": "nominal"}
                  }}
               ],
               "resolve": {"axis": {"x": "independent", "y": "independent"}}}
            ], "spacing": 0, "bounds": "flush"},
            {"vconcat": [
              {"width": 447, "height": 52, "view": {"fill": "#c4c4c4", "stroke": null}, "data": {"values": [{"label": "FCE22.1"}]}, "mark": {"type": "text"}, "encoding": {"text": {"field": "label", "type": "nominal"}}},
              {"width": 447, "height": 443,
               "transform": [{"filter": "datum.var === 'LWC' && datum.event === 'FCE22.1'"}],
               "layer": [
                 {"mark": {"type": "line", "opacity": 0},
                  "encoding": {
                    "x": {"field": "time", "type": "temporal", "scale": {"nice": false, "domain": [{"year": 2010, "month": 10, "date": 22, "hours": 21, "minutes": 12}, {"year": 2010, "month": 10, "date": 23, "hours": 3, "minutes": 48}]},
                          "axis": {"orient": "bottom", "title": null, "labels": false, "ticks": false, "gridColor": "#ececec", "gridWidth": 1.4, "values": [{"year": 2010, "month": 10, "date": 22, "hours": 21, "minutes": 30}, {"year": 2010, "month": 10, "date": 22, "hours": 22, "minutes": 30}, {"year": 2010, "month": 10, "date": 22, "hours": 23, "minutes": 30}, {"year": 2010, "month": 10, "date": 23, "hours": 0, "minutes": 30}, {"year": 2010, "month": 10, "date": 23, "hours": 1, "minutes": 30}, {"year": 2010, "month": 10, "date": 23, "hours": 2, "minutes": 30}, {"year": 2010, "month": 10, "date": 23, "hours": 3, "minutes": 30}]}},
                    "y": {"field": "value", "type": "quantitative", "scale": {"domain": [0.2086, 0.3538], "nice": false, "zero": false},
                          "axis": {"orient": "left", "title": null, "labels": false, "ticks": false, "gridColor": "#ececec", "gridWidth": 1.4, "values": [0.225, 0.275, 0.325]}}
                  }},
                 {"mark": {"type": "line"},
                  "encoding": {
                    "x": {"field": "time", "type": "temporal", "scale": {"nice": false, "domain": [{"year": 2010, "month": 10, "date": 22, "hours": 21, "minutes": 12}, {"year": 2010, "month": 10, "date": 23, "hours": 3, "minutes": 48}]},
                          "axis": {"orient": "bottom", "title": null, "format": "%H:%M", "values": [{"year": 2010, "month": 10, "date": 22, "hours": 22}, {"year": 2010, "month": 10, "date": 22, "hours": 23}, {"year": 2010, "month": 10, "date": 23, "hours": 0}, {"year": 2010, "month": 10, "date": 23, "hours": 1}, {"year": 2010, "month": 10, "date": 23, "hours": 2}, {"year": 2010, "month": 10, "date": 23, "hours": 3}]}},
                    "y": {"field": "value", "type": "quantitative", "scale": {"domain": [0.2086, 0.3538], "nice": false, "zero": false},
                          "axis": {"orient": "left", "title": null, "format": ".2f", "values": [0.25, 0.30, 0.35]}},
                    "detail": {"field": "seg", "type": "nominal"}
                  }}
               ],
               "resolve": {"axis": {"x": "independent", "y": "independent"}}}
            ], "spacing": 0, "bounds": "flush"},
            {"vconcat": [
              {"width": 448, "height": 52, "view": {"fill": "#c4c4c4", "stroke": null}, "data": {"values": [{"label": "FCE26.1+2"}]}, "mark": {"type": "text"}, "encoding": {"text": {"field": "label", "type": "nominal"}}},
              {"width": 448, "height": 443,
               "transform": [{"filter": "datum.var === 'LWC' && datum.event === 'FCE26.1+2'"}],
               "layer": [
                 {"mark": {"type": "line", "opacity": 0},
                  "encoding": {
                    "x": {"field": "time", "type": "temporal", "scale": {"nice": false, "domain": [{"year": 2010, "month": 10, "date": 24, "hours": 0, "minutes": 59}, {"year": 2010, "month": 10, "date": 24, "hours": 12, "minutes": 13}]},
                          "axis": {"orient": "bottom", "title": null, "labels": false, "ticks": false, "gridColor": "#ececec", "gridWidth": 1.4, "values": [{"year": 2010, "month": 10, "date": 24, "hours": 1, "minutes": 30}, {"year": 2010, "month": 10, "date": 24, "hours": 4, "minutes": 30}, {"year": 2010, "month": 10, "date": 24, "hours": 7, "minutes": 30}, {"year": 2010, "month": 10, "date": 24, "hours": 10, "minutes": 30}]}},
                    "y": {"field": "value", "type": "quantitative", "scale": {"domain": [0.0523, 0.2256], "nice": false, "zero": false},
                          "axis": {"orient": "left", "title": null, "labels": false, "ticks": false, "gridColor": "#ececec", "gridWidth": 1.4, "values": [0.075, 0.125, 0.175, 0.225]}}
                  }},
                 {"mark": {"type": "line"},
                  "encoding": {
                    "x": {"field": "time", "type": "temporal", "scale": {"nice": false, "domain": [{"year": 2010, "month": 10, "date": 24, "hours": 0, "minutes": 59}, {"year": 2010, "month": 10, "date": 24, "hours": 12, "minutes": 13}]},
                          "axis": {"orient": "bottom", "title": null, "format": "%H:%M", "values": [{"year": 2010, "month": 10, "date": 24, "hours": 3}, {"year": 2010, "month": 10, "date": 24, "hours": 6}, {"year": 2010, "month": 10, "date": 24, "hours": 9}, {"year": 2010, "month": 10, "date": 24, "hours": 12}]}},
                    "y": {"field": "value", "type": "quantitative", "scale": {"domain": [0.0523, 0.2256], "nice": false, "zero": false},
                          "axis": {"orient": "left", "title": null, "format": ".2f", "values": [0.10, 0.15, 0.20]}},
                    "detail": {"field": "seg", "type": "nominal"}
                  }}
               ],
               "resolve": {"axis": {"x": "independent", "y": "independent"}}}
            ], "spacing": 0, "bounds": "flush"}
          ]
        },
        {
          "title": {"text": "WSOC", "offset": 30, "dx": 35},
          "spacing": 9,
          "hconcat": [
            {"width": 1, "height": 1, "view": {"fill": null, "stroke": null}, "data": {"values": [{"label": ""}]}, "mark": {"type": "text", "fontSize": 1, "dy": 0, "baseline": "top"}, "encoding": {"text": {"field": "label", "type": "nominal"}}},
            {"vconcat": [
              {"width": 474, "height": 52, "view": {"fill": "#c4c4c4", "stroke": null}, "data": {"values": [{"label": "FCE1.1"}]}, "mark": {"type": "text"}, "encoding": {"text": {"field": "label", "type": "nominal"}}},
              {"width": 474, "height": 442,
               "transform": [{"filter": "datum.var === 'WSOC' && datum.event === 'FCE1.1'"}],
               "layer": [
                 {"mark": {"type": "line", "opacity": 0},
                  "encoding": {
                    "x": {"field": "time", "type": "temporal", "scale": {"nice": false, "domain": [{"year": 2010, "month": 9, "date": 14, "hours": 10, "minutes": 15}, {"year": 2010, "month": 9, "date": 15, "hours": 2, "minutes": 45}]},
                          "axis": {"orient": "bottom", "title": null, "labels": false, "ticks": false, "gridColor": "#ececec", "gridWidth": 1.4, "values": [{"year": 2010, "month": 9, "date": 14, "hours": 10, "minutes": 30}, {"year": 2010, "month": 9, "date": 14, "hours": 13, "minutes": 30}, {"year": 2010, "month": 9, "date": 14, "hours": 16, "minutes": 30}, {"year": 2010, "month": 9, "date": 14, "hours": 19, "minutes": 30}, {"year": 2010, "month": 9, "date": 14, "hours": 22, "minutes": 30}, {"year": 2010, "month": 9, "date": 15, "hours": 1, "minutes": 30}]}},
                    "y": {"field": "value", "type": "quantitative", "scale": {"domain": [1.72, 8.63], "nice": false, "zero": false},
                          "axis": {"orient": "left", "title": null, "labels": false, "ticks": false, "gridColor": "#ececec", "gridWidth": 1.4, "values": [2.5, 3.5, 4.5, 5.5, 6.5, 7.5, 8.5]}}
                  }},
                 {"mark": {"type": "line"},
                  "encoding": {
                    "x": {"field": "time", "type": "temporal", "scale": {"nice": false, "domain": [{"year": 2010, "month": 9, "date": 14, "hours": 10, "minutes": 15}, {"year": 2010, "month": 9, "date": 15, "hours": 2, "minutes": 45}]},
                          "axis": {"orient": "bottom", "title": null, "format": "%H:%M", "values": [{"year": 2010, "month": 9, "date": 14, "hours": 12}, {"year": 2010, "month": 9, "date": 14, "hours": 15}, {"year": 2010, "month": 9, "date": 14, "hours": 18}, {"year": 2010, "month": 9, "date": 14, "hours": 21}, {"year": 2010, "month": 9, "date": 15, "hours": 0}]}},
                    "y": {"field": "value", "type": "quantitative", "scale": {"domain": [1.72, 8.63], "nice": false, "zero": false},
                          "axis": {"orient": "left", "title": "Conc. (mg l⁻¹)", "titlePadding": 12, "format": "d", "values": [2, 3, 4, 5, 6, 7, 8]}},
                    "detail": {"field": "seg", "type": "nominal"}
                  }}
               ],
               "resolve": {"axis": {"x": "independent", "y": "independent"}}}
            ], "spacing": 0, "bounds": "flush"},
            {"vconcat": [
              {"width": 474, "height": 52, "view": {"fill": "#c4c4c4", "stroke": null}, "data": {"values": [{"label": "FCE11.2+3"}]}, "mark": {"type": "text"}, "encoding": {"text": {"field": "label", "type": "nominal"}}},
              {"width": 474, "height": 442,
               "transform": [{"filter": "datum.var === 'WSOC' && datum.event === 'FCE11.2+3'"}],
               "layer": [
                 {"mark": {"type": "line", "opacity": 0},
                  "encoding": {
                    "x": {"field": "time", "type": "temporal", "scale": {"nice": false, "domain": [{"year": 2010, "month": 10, "date": 1, "hours": 21, "minutes": 27}, {"year": 2010, "month": 10, "date": 2, "hours": 20, "minutes": 33}]},
                          "axis": {"orient": "bottom", "title": null, "labels": false, "ticks": false, "gridColor": "#ececec", "gridWidth": 1.4, "values": [{"year": 2010, "month": 10, "date": 1, "hours": 22, "minutes": 30}, {"year": 2010, "month": 10, "date": 2, "hours": 1, "minutes": 30}, {"year": 2010, "month": 10, "date": 2, "hours": 4, "minutes": 30}, {"year": 2010, "month": 10, "date": 2, "hours": 7, "minutes": 30}, {"year": 2010, "month": 10, "date": 2, "hours": 10, "minutes": 30}, {"year": 2010, "month": 10, "date": 2, "hours": 13, "minutes": 30}, {"year": 2010, "month": 10, "date": 2, "hours": 16, "minutes": 30}, {"year": 2010, "month": 10, "date": 2, "hours": 19, "minutes": 30}]}},
                    "y": {"field": "value", "type": "quantitative", "scale": {"domain": [1.50, 5.42], "nice": false, "zero": false},
                          "axis": {"orient": "left", "title": null, "labels": false, "ticks": false, "gridColor": "#ececec", "gridWidth": 1.4, "values": [2.5, 3.5, 4.5]}}
                  }},
                 {"mark": {"type": "line"},
                  "encoding": {
                    "x": {"field": "time", "type": "temporal", "scale": {"nice": false, "domain": [{"year": 2010, "month": 10, "date": 1, "hours": 21, "minutes": 27}, {"year": 2010, "month": 10, "date": 2, "hours": 20, "minutes": 33}]},
                          "axis": {"orient": "bottom", "title": null, "format": "%H:%M", "values": [{"year": 2010, "month": 10, "date": 2, "hours": 0}, {"year": 2010, "month": 10, "date": 2, "hours": 3}, {"year": 2010, "month": 10, "date": 2, "hours": 6}, {"year": 2010, "month": 10, "date": 2, "hours": 9}, {"year": 2010, "month": 10, "date": 2, "hours": 12}, {"year": 2010, "month": 10, "date": 2, "hours": 15}, {"year": 2010, "month": 10, "date": 2, "hours": 18}]}},
                    "y": {"field": "value", "type": "quantitative", "scale": {"domain": [1.50, 5.42], "nice": false, "zero": false},
                          "axis": {"orient": "left", "title": null, "format": "d", "values": [2, 3, 4, 5]}},
                    "detail": {"field": "seg", "type": "nominal"}
                  }}
               ],
               "resolve": {"axis": {"x": "independent", "y": "independent"}}}
            ], "spacing": 0, "bounds": "flush"},
            {"vconcat": [
              {"width": 475, "height": 52, "view": {"fill": "#c4c4c4", "stroke": null}, "data": {"values": [{"label": "FCE13.1+2+3"}]}, "mark": {"type": "text"}, "encoding": {"text": {"field": "label", "type": "nominal"}}},
              {"width": 475, "height": 442,
               "transform": [{"filter": "datum.var === 'WSOC' && datum.event === 'FCE13.1+2+3'"}],
               "layer": [
                 {"mark": {"type": "line", "opacity": 0},
                  "encoding": {
                    "x": {"field": "time", "type": "temporal", "scale": {"nice": false, "domain": [{"year": 2010, "month": 10, "date": 6, "hours": 17, "minutes": 40}, {"year": 2010, "month": 10, "date": 8, "hours": 4, "minutes": 52}]},
                          "axis": {"orient": "bottom", "title": null, "labels": false, "ticks": false, "gridColor": "#ececec", "gridWidth": 1.4, "values": [{"year": 2010, "month": 10, "date": 6, "hours": 21}, {"year": 2010, "month": 10, "date": 7, "hours": 3}, {"year": 2010, "month": 10, "date": 7, "hours": 9}, {"year": 2010, "month": 10, "date": 7, "hours": 15}, {"year": 2010, "month": 10, "date": 7, "hours": 21}, {"year": 2010, "month": 10, "date": 8, "hours": 3}]}},
                    "y": {"field": "value", "type": "quantitative", "scale": {"domain": [0.81, 35.35], "nice": false, "zero": false},
                          "axis": {"orient": "left", "title": null, "labels": false, "ticks": false, "gridColor": "#ececec", "gridWidth": 1.4, "values": [2.5, 7.5, 12.5, 17.5, 22.5, 27.5, 32.5]}}
                  }},
                 {"mark": {"type": "line"},
                  "encoding": {
                    "x": {"field": "time", "type": "temporal", "scale": {"nice": false, "domain": [{"year": 2010, "month": 10, "date": 6, "hours": 17, "minutes": 40}, {"year": 2010, "month": 10, "date": 8, "hours": 4, "minutes": 52}]},
                          "axis": {"orient": "bottom", "title": null, "format": "%H:%M", "values": [{"year": 2010, "month": 10, "date": 6, "hours": 18}, {"year": 2010, "month": 10, "date": 7, "hours": 0}, {"year": 2010, "month": 10, "date": 7, "hours": 6}, {"year": 2010, "month": 10, "date": 7, "hours": 12}, {"year": 2010, "month": 10, "date": 7, "hours": 18}, {"year": 2010, "month": 10, "date": 8, "hours": 0}]}},
                    "y": {"field": "value", "type": "quantitative", "scale": {"domain": [0.81, 35.35], "nice": false, "zero": false},
                          "axis": {"orient": "left", "title": null, "format": "d", "values": [5, 10, 15, 20, 25, 30, 35]}},
                    "detail": {"field": "seg", "type": "nominal"}
                  }}
               ],
               "resolve": {"axis": {"x": "independent", "y": "independent"}}}
            ], "spacing": 0, "bounds": "flush"},
            {"vconcat": [
              {"width": 475, "height": 52, "view": {"fill": "#c4c4c4", "stroke": null}, "data": {"values": [{"label": "FCE22.1"}]}, "mark": {"type": "text"}, "encoding": {"text": {"field": "label", "type": "nominal"}}},
              {"width": 475, "height": 442,
               "transform": [{"filter": "datum.var === 'WSOC' && datum.event === 'FCE22.1'"}],
               "layer": [
                 {"mark": {"type": "line", "opacity": 0},
                  "encoding": {
                    "x": {"field": "time", "type": "temporal", "scale": {"nice": false, "domain": [{"year": 2010, "month": 10, "date": 22, "hours": 21, "minutes": 12}, {"year": 2010, "month": 10, "date": 23, "hours": 3, "minutes": 48}]},
                          "axis": {"orient": "bottom", "title": null, "labels": false, "ticks": false, "gridColor": "#ececec", "gridWidth": 1.4, "values": [{"year": 2010, "month": 10, "date": 22, "hours": 21, "minutes": 30}, {"year": 2010, "month": 10, "date": 22, "hours": 22, "minutes": 30}, {"year": 2010, "month": 10, "date": 22, "hours": 23, "minutes": 30}, {"year": 2010, "month": 10, "date": 23, "hours": 0, "minutes": 30}, {"year": 2010, "month": 10, "date": 23, "hours": 1, "minutes": 30}, {"year": 2010, "month": 10, "date": 23, "hours": 2, "minutes": 30}, {"year": 2010, "month": 10, "date": 23, "hours": 3, "minutes": 30}]}},
                    "y": {"field": "value", "type": "quantitative", "scale": {"domain": [1.132, 3.913], "nice": false, "zero": false},
                          "axis": {"orient": "left", "title": null, "labels": false, "ticks": false, "gridColor": "#ececec", "gridWidth": 1.4, "values": [1.25, 1.75, 2.25, 2.75, 3.25, 3.75]}}
                  }},
                 {"mark": {"type": "line"},
                  "encoding": {
                    "x": {"field": "time", "type": "temporal", "scale": {"nice": false, "domain": [{"year": 2010, "month": 10, "date": 22, "hours": 21, "minutes": 12}, {"year": 2010, "month": 10, "date": 23, "hours": 3, "minutes": 48}]},
                          "axis": {"orient": "bottom", "title": null, "format": "%H:%M", "values": [{"year": 2010, "month": 10, "date": 22, "hours": 22}, {"year": 2010, "month": 10, "date": 22, "hours": 23}, {"year": 2010, "month": 10, "date": 23, "hours": 0}, {"year": 2010, "month": 10, "date": 23, "hours": 1}, {"year": 2010, "month": 10, "date": 23, "hours": 2}, {"year": 2010, "month": 10, "date": 23, "hours": 3}]}},
                    "y": {"field": "value", "type": "quantitative", "scale": {"domain": [1.132, 3.913], "nice": false, "zero": false},
                          "axis": {"orient": "left", "title": null, "format": ".1f", "values": [1.5, 2.0, 2.5, 3.0, 3.5]}},
                    "detail": {"field": "seg", "type": "nominal"}
                  }}
               ],
               "resolve": {"axis": {"x": "independent", "y": "independent"}}}
            ], "spacing": 0, "bounds": "flush"},
            {"vconcat": [
              {"width": 472, "height": 52, "view": {"fill": "#c4c4c4", "stroke": null}, "data": {"values": [{"label": "FCE26.1+2"}]}, "mark": {"type": "text"}, "encoding": {"text": {"field": "label", "type": "nominal"}}},
              {"width": 472, "height": 442,
               "transform": [{"filter": "datum.var === 'WSOC' && datum.event === 'FCE26.1+2'"}],
               "layer": [
                 {"mark": {"type": "line", "opacity": 0},
                  "encoding": {
                    "x": {"field": "time", "type": "temporal", "scale": {"nice": false, "domain": [{"year": 2010, "month": 10, "date": 24, "hours": 0, "minutes": 59}, {"year": 2010, "month": 10, "date": 24, "hours": 12, "minutes": 13}]},
                          "axis": {"orient": "bottom", "title": null, "labels": false, "ticks": false, "gridColor": "#ececec", "gridWidth": 1.4, "values": [{"year": 2010, "month": 10, "date": 24, "hours": 1, "minutes": 30}, {"year": 2010, "month": 10, "date": 24, "hours": 4, "minutes": 30}, {"year": 2010, "month": 10, "date": 24, "hours": 7, "minutes": 30}, {"year": 2010, "month": 10, "date": 24, "hours": 10, "minutes": 30}]}},
                    "y": {"field": "value", "type": "quantitative", "scale": {"domain": [1.333, 3.098], "nice": false, "zero": false},
                          "axis": {"orient": "left", "title": null, "labels": false, "ticks": false, "gridColor": "#ececec", "gridWidth": 1.4, "values": [1.75, 2.25, 2.75]}}
                  }},
                 {"mark": {"type": "line"},
                  "encoding": {
                    "x": {"field": "time", "type": "temporal", "scale": {"nice": false, "domain": [{"year": 2010, "month": 10, "date": 24, "hours": 0, "minutes": 59}, {"year": 2010, "month": 10, "date": 24, "hours": 12, "minutes": 13}]},
                          "axis": {"orient": "bottom", "title": null, "format": "%H:%M", "values": [{"year": 2010, "month": 10, "date": 24, "hours": 3}, {"year": 2010, "month": 10, "date": 24, "hours": 6}, {"year": 2010, "month": 10, "date": 24, "hours": 9}, {"year": 2010, "month": 10, "date": 24, "hours": 12}]}},
                    "y": {"field": "value", "type": "quantitative", "scale": {"domain": [1.333, 3.098], "nice": false, "zero": false},
                          "axis": {"orient": "left", "title": null, "format": ".1f", "values": [1.5, 2.0, 2.5, 3.0]}},
                    "detail": {"field": "seg", "type": "nominal"}
                  }}
               ],
               "resolve": {"axis": {"x": "independent", "y": "independent"}}}
            ], "spacing": 0, "bounds": "flush"}
          ]
        }
      ],
      "columns": 1,
      "align": "none",
      "spacing": 67
    },
    {
      "spacing": 9,
      "hconcat": [
        {"width": 1, "height": 1, "view": {"fill": null, "stroke": null}, "data": {"values": [{"label": ""}]}, "mark": {"type": "text", "fontSize": 1, "dy": 0, "baseline": "top"}, "encoding": {"text": {"field": "label", "type": "nominal"}}},
        {"vconcat": [
          {"width": 459, "height": 52, "view": {"fill": "#c4c4c4", "stroke": null}, "data": {"values": [{"label": "FCE1.1"}]}, "mark": {"type": "text"}, "encoding": {"text": {"field": "label", "type": "nominal"}}},
          {"width": 459, "height": 443,
           "transform": [{"filter": "datum.var === 'CWL' && datum.event === 'FCE1.1'"}],
           "layer": [
             {"mark": {"type": "line", "opacity": 0},
              "encoding": {
                "x": {"field": "time", "type": "temporal", "scale": {"nice": false, "domain": [{"year": 2010, "month": 9, "date": 14, "hours": 10, "minutes": 15}, {"year": 2010, "month": 9, "date": 15, "hours": 2, "minutes": 45}]},
                      "axis": {"orient": "bottom", "title": null, "labels": false, "ticks": false, "gridColor": "#ececec", "gridWidth": 1.4, "values": [{"year": 2010, "month": 9, "date": 14, "hours": 10, "minutes": 30}, {"year": 2010, "month": 9, "date": 14, "hours": 13, "minutes": 30}, {"year": 2010, "month": 9, "date": 14, "hours": 16, "minutes": 30}, {"year": 2010, "month": 9, "date": 14, "hours": 19, "minutes": 30}, {"year": 2010, "month": 9, "date": 14, "hours": 22, "minutes": 30}, {"year": 2010, "month": 9, "date": 15, "hours": 1, "minutes": 30}]}},
                "y": {"field": "value", "type": "quantitative", "scale": {"domain": [0.665, 1.503], "nice": false, "zero": false},
                      "axis": {"orient": "left", "title": null, "labels": false, "ticks": false, "gridColor": "#ececec", "gridWidth": 1.4, "values": [0.7, 0.9, 1.1, 1.3, 1.5]}}
              }},
             {"mark": {"type": "line"},
              "encoding": {
                "x": {"field": "time", "type": "temporal", "scale": {"nice": false, "domain": [{"year": 2010, "month": 9, "date": 14, "hours": 10, "minutes": 15}, {"year": 2010, "month": 9, "date": 15, "hours": 2, "minutes": 45}]},
                      "axis": {"orient": "bottom", "title": null, "format": "%H:%M", "values": [{"year": 2010, "month": 9, "date": 14, "hours": 12}, {"year": 2010, "month": 9, "date": 14, "hours": 15}, {"year": 2010, "month": 9, "date": 14, "hours": 18}, {"year": 2010, "month": 9, "date": 14, "hours": 21}, {"year": 2010, "month": 9, "date": 15, "hours": 0}]}},
                "y": {"field": "value", "type": "quantitative", "scale": {"domain": [0.665, 1.503], "nice": false, "zero": false},
                      "axis": {"orient": "left", "title": "CW Loading (µg m³)", "titlePadding": 12, "format": ".1f", "values": [0.8, 1.0, 1.2, 1.4]}},
                "detail": {"field": "seg", "type": "nominal"}
              }}
           ],
           "resolve": {"axis": {"x": "independent", "y": "independent"}}}
        ], "spacing": 0, "bounds": "flush"},
        {"vconcat": [
          {"width": 460, "height": 52, "view": {"fill": "#c4c4c4", "stroke": null}, "data": {"values": [{"label": "FCE11.2+3"}]}, "mark": {"type": "text"}, "encoding": {"text": {"field": "label", "type": "nominal"}}},
          {"width": 460, "height": 443,
           "transform": [{"filter": "datum.var === 'CWL' && datum.event === 'FCE11.2+3'"}],
           "layer": [
             {"mark": {"type": "line", "opacity": 0},
              "encoding": {
                "x": {"field": "time", "type": "temporal", "scale": {"nice": false, "domain": [{"year": 2010, "month": 10, "date": 1, "hours": 21, "minutes": 27}, {"year": 2010, "month": 10, "date": 2, "hours": 20, "minutes": 33}]},
                      "axis": {"orient": "bottom", "title": null, "labels": false, "ticks": false, "gridColor": "#ececec", "gridWidth": 1.4, "values": [{"year": 2010, "month": 10, "date": 1, "hours": 22, "minutes": 30}, {"year": 2010, "month": 10, "date": 2, "hours": 1, "minutes": 30}, {"year": 2010, "month": 10, "date": 2, "hours": 4, "minutes": 30}, {"year": 2010, "month": 10, "date": 2, "hours": 7, "minutes": 30}, {"year": 2010, "month": 10, "date": 2, "hours": 10, "minutes": 30}, {"year": 2010, "month": 10, "date": 2, "hours": 13, "minutes": 30}, {"year": 2010, "month": 10, "date": 2, "hours": 16, "minutes": 30}, {"year": 2010, "month": 10, "date": 2, "hours": 19, "minutes": 30}]}},
                "y": {"field": "value", "type": "quantitative", "scale": {"domain": [0.54, 1.86], "nice": false, "zero": false},
                      "axis": {"orient": "left", "title": null, "labels": false, "ticks": false, "gridColor": "#ececec", "gridWidth": 1.4, "values": [0.7, 0.9, 1.1, 1.3, 1.5, 1.7]}}
              }},
             {"mark": {"type": "line"},
              "encoding": {
                "x": {"field": "time", "type": "temporal", "scale": {"nice": false, "domain": [{"year": 2010, "month": 10, "date": 1, "hours": 21, "minutes": 27}, {"year": 2010, "month": 10, "date": 2, "hours": 20, "minutes": 33}]},
                      "axis": {"orient": "bottom", "title": null, "format": "%H:%M", "values": [{"year": 2010, "month": 10, "date": 2, "hours": 0}, {"year": 2010, "month": 10, "date": 2, "hours": 3}, {"year": 2010, "month": 10, "date": 2, "hours": 6}, {"year": 2010, "month": 10, "date": 2, "hours": 9}, {"year": 2010, "month": 10, "date": 2, "hours": 12}, {"year": 2010, "month": 10, "date": 2, "hours": 15}, {"year": 2010, "month": 10, "date": 2, "hours": 18}]}},
                "y": {"field": "value", "type": "quantitative", "scale": {"domain": [0.54, 1.86], "nice": false, "zero": false},
                      "axis": {"orient": "left", "title": null, "format": ".1f", "values": [0.6, 0.8, 1.0, 1.2, 1.4, 1.6, 1.8]}},
                "detail": {"field": "seg", "type": "nominal"}
              }}
           ],
           "resolve": {"axis": {"x": "independent", "y": "independent"}}}
        ], "spacing": 0, "bounds": "flush"},
        {"vconcat": [
          {"width": 461, "height": 52, "view": {"fill": "#c4c4c4", "stroke": null}, "data": {"values": [{"label": "FCE13.1+2+3"}]}, "mark": {"type": "text"}, "encoding": {"text": {"field": "label", "type": "nominal"}}},
          {"width": 461, "height": 443,
           "transform": [{"filter": "datum.var === 'CWL' && datum.event === 'FCE13.1+2+3'"}],
           "layer": [
             {"mark": {"type": "line", "opacity": 0},
              "encoding": {
                "x": {"field": "time", "type": "temporal", "scale": {"nice": false, "domain": [{"year": 2010, "month": 10, "date": 6, "hours": 17, "minutes": 40}, {"year": 2010, "month": 10, "date": 8, "hours": 4, "minutes": 52}]},
                      "axis": {"orient": "bottom", "title": null, "labels": false, "ticks": false, "gridColor": "#ececec", "gridWidth": 1.4, "values": [{"year": 2010, "month": 10, "date": 6, "hours": 21}, {"year": 2010, "month": 10, "date": 7, "hours": 3}, {"year": 2010, "month": 10, "date": 7, "hours": 9}, {"year": 2010, "month": 10, "date": 7, "hours": 15}, {"year": 2010, "month": 10, "date": 7, "hours": 21}, {"year": 2010, "month": 10, "date": 8, "hours": 3}]}},
                "y": {"field": "value", "type": "quantitative", "scale": {"domain": [0.686, 3.655], "nice": false, "zero": false},
                      "axis": {"orient": "left", "title": null, "labels": false, "ticks": false, "gridColor": "#ececec", "gridWidth": 1.4, "values": [0.75, 1.25, 1.75, 2.25, 2.75, 3.25]}}
              }},
             {"mark": {"type": "line"},
              "encoding": {
                "x": {"field": "time", "type": "temporal", "scale": {"nice": false, "domain": [{"year": 2010, "month": 10, "date": 6, "hours": 17, "minutes": 40}, {"year": 2010, "month": 10, "date": 8, "hours": 4, "minutes": 52}]},
                      "axis": {"orient": "bottom", "title": "Time", "titlePadding": 6, "format": "%H:%M", "values": [{"year": 2010, "month": 10, "date": 6, "hours": 18}, {"year": 2010, "month": 10, "date": 7, "hours": 0}, {"year": 2010, "month": 10, "date": 7, "hours": 6}, {"year": 2010, "month": 10, "date": 7, "hours": 12}, {"year": 2010, "month": 10, "date": 7, "hours": 18}, {"year": 2010, "month": 10, "date": 8, "hours": 0}]}},
                "y": {"field": "value", "type": "quantitative", "scale": {"domain": [0.686, 3.655], "nice": false, "zero": false},
                      "axis": {"orient": "left", "title": null, "format": ".1f", "values": [1.0, 1.5, 2.0, 2.5, 3.0, 3.5]}},
                "detail": {"field": "seg", "type": "nominal"}
              }}
           ],
           "resolve": {"axis": {"x": "independent", "y": "independent"}}}
        ], "spacing": 0, "bounds": "flush"},
        {"vconcat": [
          {"width": 462, "height": 52, "view": {"fill": "#c4c4c4", "stroke": null}, "data": {"values": [{"label": "FCE22.1"}]}, "mark": {"type": "text"}, "encoding": {"text": {"field": "label", "type": "nominal"}}},
          {"width": 462, "height": 443,
           "transform": [{"filter": "datum.var === 'CWL' && datum.event === 'FCE22.1'"}],
           "layer": [
             {"mark": {"type": "line", "opacity": 0},
              "encoding": {
                "x": {"field": "time", "type": "temporal", "scale": {"nice": false, "domain": [{"year": 2010, "month": 10, "date": 22, "hours": 21, "minutes": 12}, {"year": 2010, "month": 10, "date": 23, "hours": 3, "minutes": 48}]},
                      "axis": {"orient": "bottom", "title": null, "labels": false, "ticks": false, "gridColor": "#ececec", "gridWidth": 1.4, "values": [{"year": 2010, "month": 10, "date": 22, "hours": 21, "minutes": 30}, {"year": 2010, "month": 10, "date": 22, "hours": 22, "minutes": 30}, {"year": 2010, "month": 10, "date": 22, "hours": 23, "minutes": 30}, {"year": 2010, "month": 10, "date": 23, "hours": 0, "minutes": 30}, {"year": 2010, "month": 10, "date": 23, "hours": 1, "minutes": 30}, {"year": 2010, "month": 10, "date": 23, "hours": 2, "minutes": 30}, {"year": 2010, "month": 10, "date": 23, "hours": 3, "minutes": 30}]}},
                "y": {"field": "value", "type": "quantitative", "scale": {"domain": [0.225, 1.258], "nice": false, "zero": false},
                      "axis": {"orient": "left", "title": null, "labels": false, "ticks": false, "gridColor": "#ececec", "gridWidth": 1.4, "values": [0.3, 0.5, 0.7, 0.9, 1.1]}}
              }},
             {"mark": {"type": "line"},
              "encoding": {
                "x": {"field": "time", "type": "temporal", "scale": {"nice": false, "domain": [{"year": 2010, "month": 10, "date": 22, "hours": 21, "minutes": 12}, {"year": 2010, "month": 10, "date": 23, "hours": 3, "minutes": 48}]},
                      "axis": {"orient": "bottom", "title": null, "format": "%H:%M", "values": [{"year": 2010, "month": 10, "date": 22, "hours": 22}, {"year": 2010, "month": 10, "date": 22, "hours": 23}, {"year": 2010, "month": 10, "date": 23, "hours": 0}, {"year": 2010, "month": 10, "date": 23, "hours": 1}, {"year": 2010, "month": 10, "date": 23, "hours": 2}, {"year": 2010, "month": 10, "date": 23, "hours": 3}]}},
                "y": {"field": "value", "type": "quantitative", "scale": {"domain": [0.225, 1.258], "nice": false, "zero": false},
                      "axis": {"orient": "left", "title": null, "format": ".1f", "values": [0.4, 0.6, 0.8, 1.0, 1.2]}},
                "detail": {"field": "seg", "type": "nominal"}
              }}
           ],
           "resolve": {"axis": {"x": "independent", "y": "independent"}}}
        ], "spacing": 0, "bounds": "flush"},
        {"vconcat": [
          {"width": 459, "height": 52, "view": {"fill": "#c4c4c4", "stroke": null}, "data": {"values": [{"label": "FCE26.1+2"}]}, "mark": {"type": "text"}, "encoding": {"text": {"field": "label", "type": "nominal"}}},
          {"width": 459, "height": 443,
           "transform": [{"filter": "datum.var === 'CWL' && datum.event === 'FCE26.1+2'"}],
           "layer": [
             {"mark": {"type": "line", "opacity": 0},
              "encoding": {
                "x": {"field": "time", "type": "temporal", "scale": {"nice": false, "domain": [{"year": 2010, "month": 10, "date": 24, "hours": 0, "minutes": 59}, {"year": 2010, "month": 10, "date": 24, "hours": 12, "minutes": 13}]},
                      "axis": {"orient": "bottom", "title": null, "labels": false, "ticks": false, "gridColor": "#ececec", "gridWidth": 1.4, "values": [{"year": 2010, "month": 10, "date": 24, "hours": 1, "minutes": 30}, {"year": 2010, "month": 10, "date": 24, "hours": 4, "minutes": 30}, {"year": 2010, "month": 10, "date": 24, "hours": 7, "minutes": 30}, {"year": 2010, "month": 10, "date": 24, "hours": 10, "minutes": 30}]}},
                "y": {"field": "value", "type": "quantitative", "scale": {"domain": [0.058, 0.648], "nice": false, "zero": false},
                      "axis": {"orient": "left", "title": null, "labels": false, "ticks": false, "gridColor": "#ececec", "gridWidth": 1.4, "values": [0.15, 0.25, 0.35, 0.45, 0.55]}}
              }},
             {"mark": {"type": "line"},
              "encoding": {
                "x": {"field": "time", "type": "temporal", "scale": {"nice": false, "domain": [{"year": 2010, "month": 10, "date": 24, "hours": 0, "minutes": 59}, {"year": 2010, "month": 10, "date": 24, "hours": 12, "minutes": 13}]},
                      "axis": {"orient": "bottom", "title": null, "format": "%H:%M", "values": [{"year": 2010, "month": 10, "date": 24, "hours": 3}, {"year": 2010, "month": 10, "date": 24, "hours": 6}, {"year": 2010, "month": 10, "date": 24, "hours": 9}, {"year": 2010, "month": 10, "date": 24, "hours": 12}]}},
                "y": {"field": "value", "type": "quantitative", "scale": {"domain": [0.058, 0.648], "nice": false, "zero": false},
                      "axis": {"orient": "left", "title": null, "format": ".1f", "values": [0.1, 0.2, 0.3, 0.4, 0.5, 0.6]}},
                "detail": {"field": "seg", "type": "nominal"}
              }}
           ],
           "resolve": {"axis": {"x": "independent", "y": "independent"}}}
        ], "spacing": 0, "bounds": "flush"}
      ]
    }
  ],
  "columns": 1,
  "align": "none",
  "spacing": 43,
  "config": {
    "view": {"fill": "#dedede", "stroke": null},
    "line": {"interpolate": "step-after", "color": "#4f7fbb", "strokeWidth": 4.5, "strokeJoin": "round"},
    "text": {"font": "Liberation Sans", "fontSize": 36, "color": "#1a1a1a", "baseline": "middle", "dy": 7},
    "axis": {
      "domain": false,
      "grid": true,
      "gridColor": "#ffffff",
      "gridWidth": 2.8,
      "labelFont": "Liberation Sans",
      "labelFontSize": 36,
      "labelColor": "#7f7f7f",
      "labelOverlap": false,
      "labelFlush": false,
      "labelBound": false,
      "tickColor": "#7f7f7f",
      "tickWidth": 2.5,
      "tickSize": 15,
      "titleFont": "Liberation Sans",
      "titleFontSize": 36,
      "titleFontWeight": "bold",
      "titleColor": "#000000"
    },
    "axisX": {"labelPadding": 9, "labelFontSize": 30},
    "axisY": {"labelPadding": 7, "titleFontSize": 38},
    "title": {"font": "Liberation Sans", "fontSize": 48, "fontWeight": "bold", "color": "#000000", "anchor": "middle"}
  }
}
